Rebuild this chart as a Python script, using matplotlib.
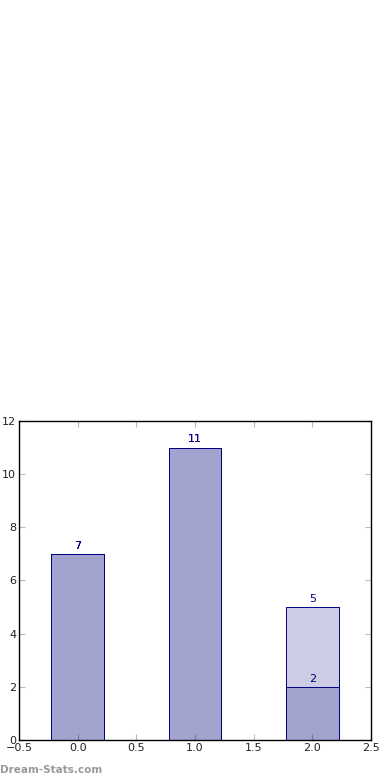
import matplotlib
matplotlib.use("Agg")
from matplotlib import pyplot as plt

# data
x = [0, 1, 2]
vals_a = [7, 11, 5]
vals_b = [7, 11, 2]

fig = plt.figure(figsize=(3.9, 7.8), dpi=100)
ax = fig.add_axes([0.0487, 0.0513, 0.9026, 0.409])

for vals in (vals_a, vals_b):
    ax.bar(x, vals, width=0.45, color='navy', alpha=0.2, zorder=2)
    ax.bar(x, vals, width=0.45, fill=False, edgecolor='navy', linewidth=0.7, zorder=3)
    for xi, v in zip(x, vals):
        ax.text(xi, v + 0.12, str(v), ha='center', va='bottom', color='navy', fontsize=8)

ax.set_xlim(-0.5, 2.5)
ax.set_ylim(0, 12)
ax.set_xticks([-0.5, 0.0, 0.5, 1.0, 1.5, 2.0, 2.5])
ax.set_yticks([0, 2, 4, 6, 8, 10, 12])
ax.tick_params(direction='in', top=True, right=True, length=4, color='#bbbbbb',
               labelsize=8, labelcolor='#222222', pad=2)
for s in ax.spines.values():
    s.set_linewidth(1)

fig.text(0.0, 0.0128, "Dream-Stats.com", color='#999999', fontsize=7.5, fontweight='bold',
         ha='left', va='center')

fig.savefig("out.png", dpi=100)
